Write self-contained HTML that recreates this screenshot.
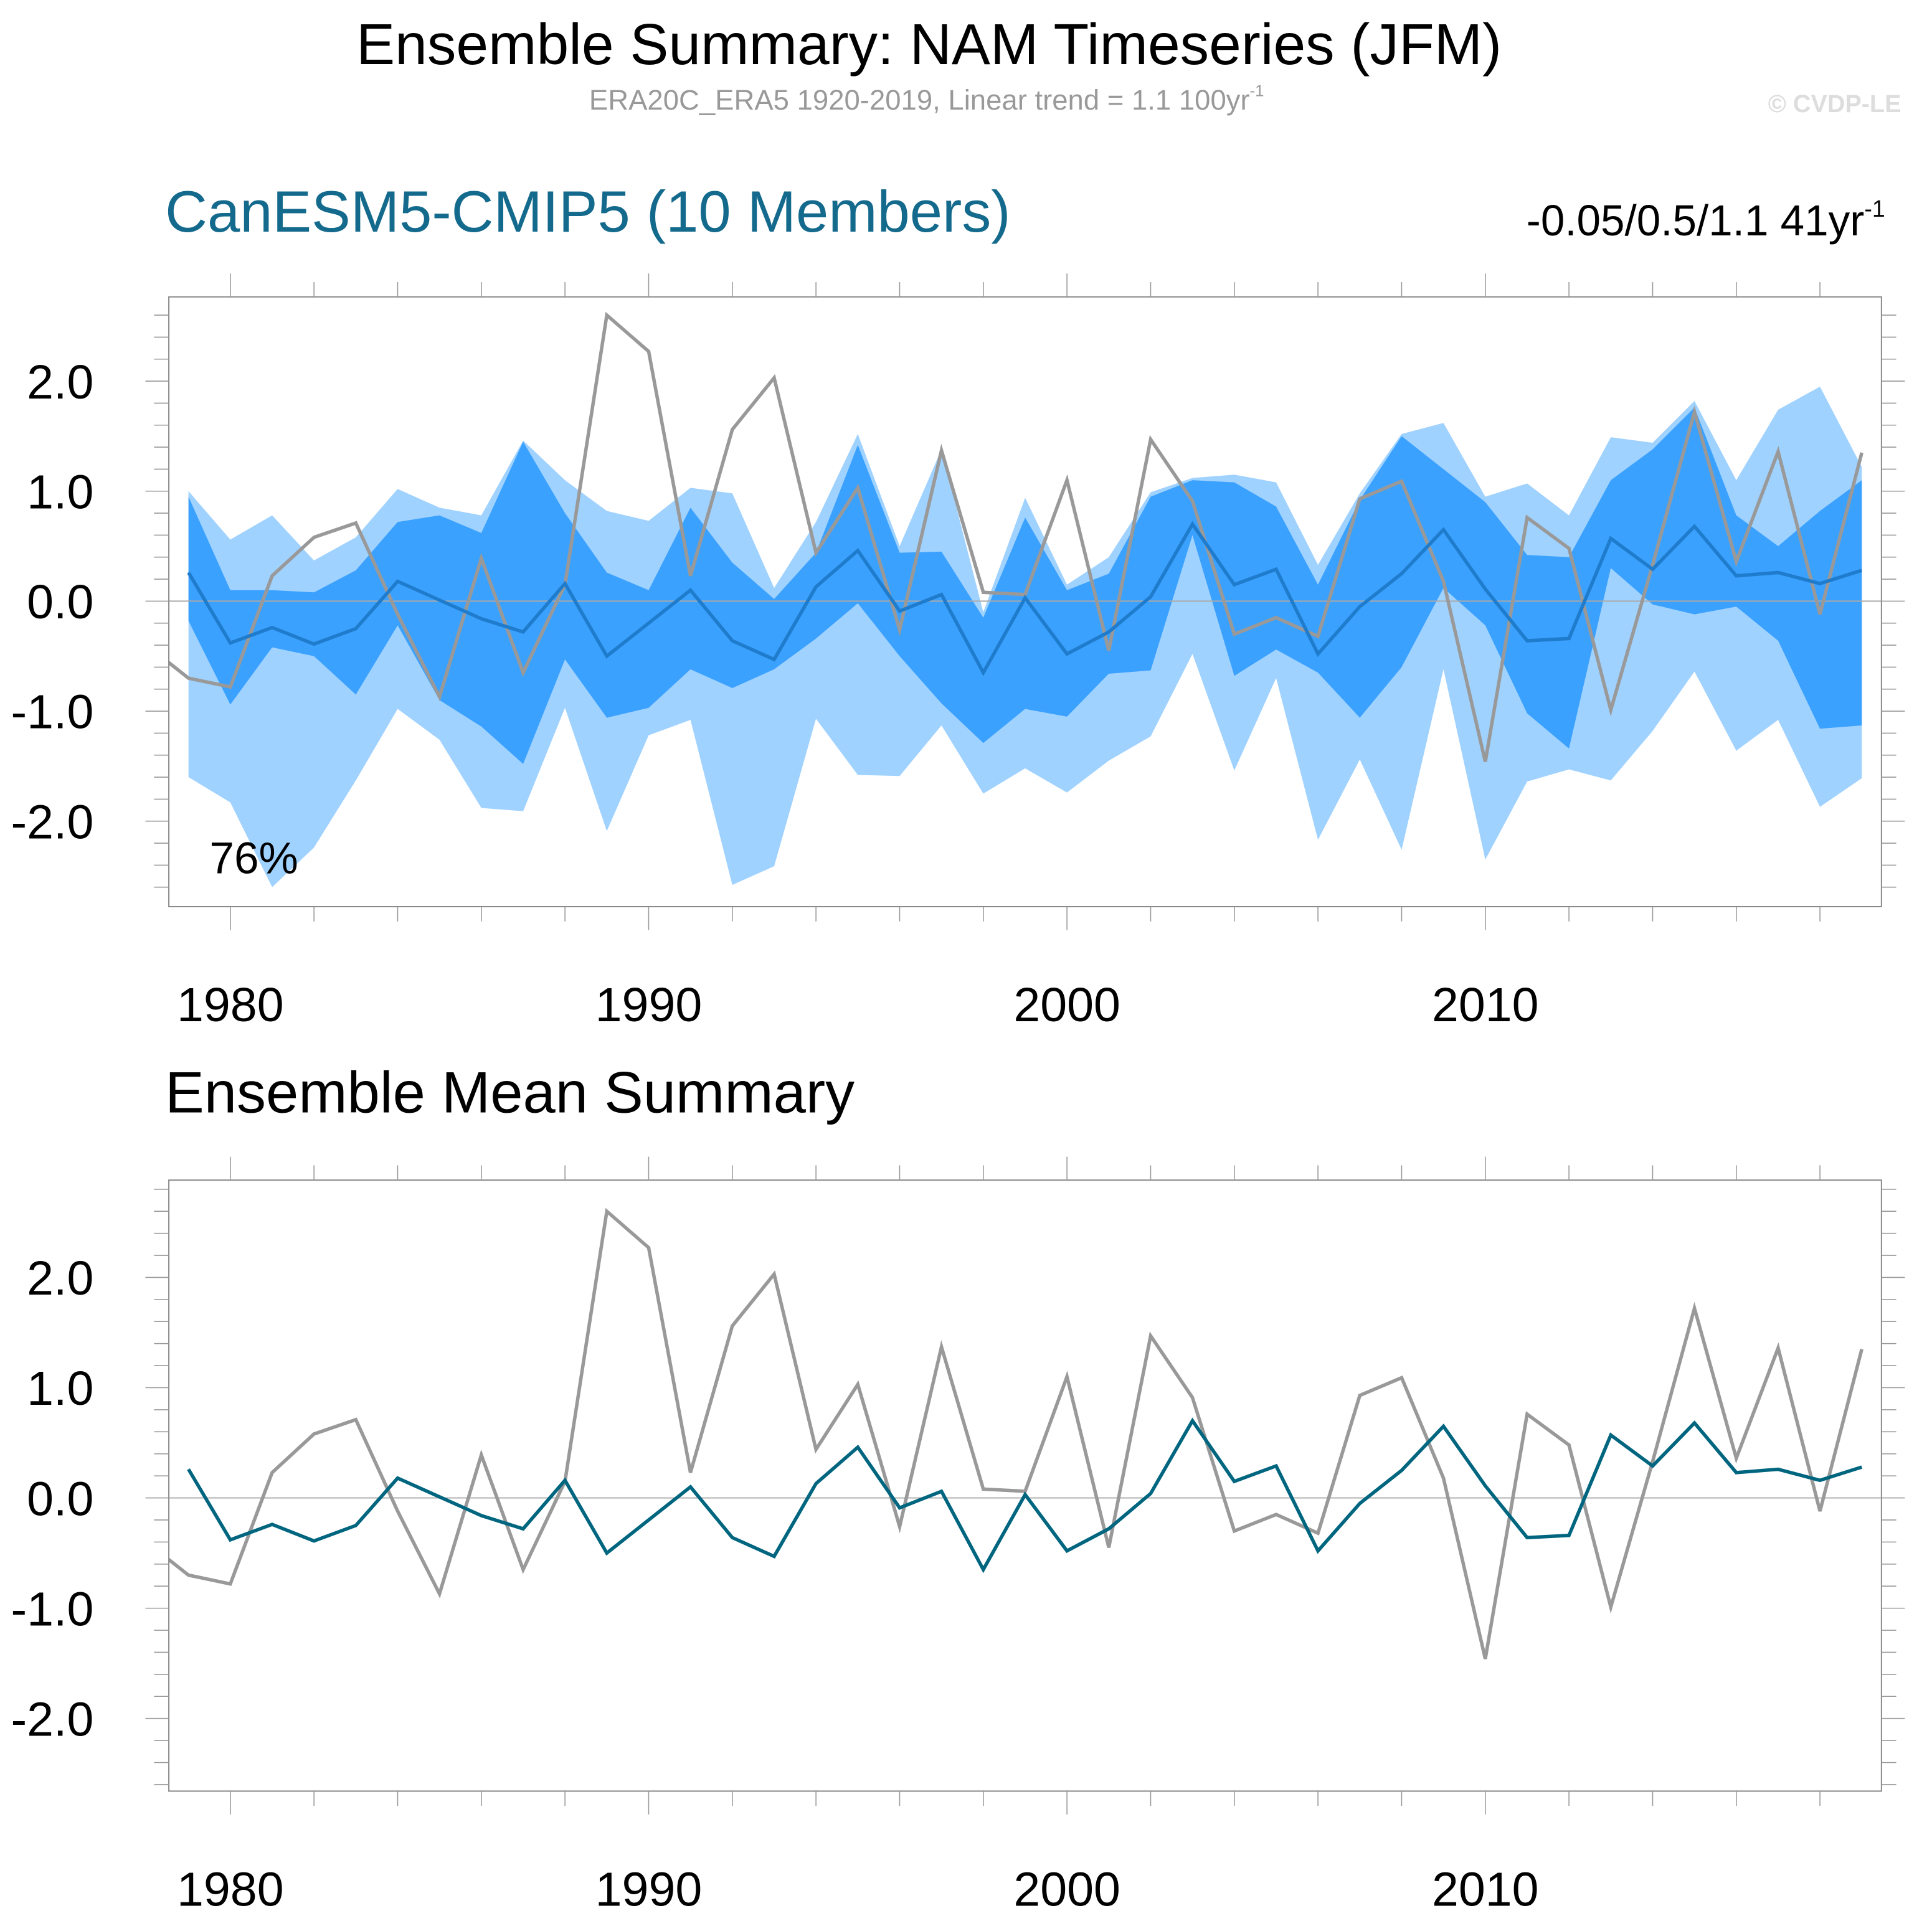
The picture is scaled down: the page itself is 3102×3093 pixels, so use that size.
<!DOCTYPE html>
<html><head><meta charset="utf-8"><style>
html,body{margin:0;padding:0;background:#fff}
svg{display:block}
text{font-family:"Liberation Sans",Arial,sans-serif}
</style></head><body>
<svg id="chart" xmlns="http://www.w3.org/2000/svg" width="3102" height="3093" viewBox="0 0 1568 1563.5">
<text x="754" y="52" font-size="47" text-anchor="middle">Ensemble Summary: NAM Timeseries (JFM)</text>
<text x="752" y="89" font-size="23" fill="#999" text-anchor="middle">ERA20C_ERA5 1920-2019, Linear trend = 1.1 100yr<tspan font-size="13" dy="-11">-1</tspan></text>
<text x="1543" y="91" font-size="20" font-weight="bold" fill="#ddd" text-anchor="end">© CVDP-LE</text>
<text x="134" y="188" font-size="47.5" fill="#146a8c">CanESM5-CMIP5 (10 Members)</text>
<text x="1530" y="191" font-size="35" text-anchor="end">-0.05/0.5/1.1 41yr<tspan font-size="19" dy="-15">-1</tspan></text>
<text x="134" y="903" font-size="47.5">Ensemble Mean Summary</text>
<g id="p1"></g>
<g id="p2"></g>
<text x="170" y="709" font-size="36">76%</text>
</svg>
<script>
const years=[];for(let y=1979;y<=2019;y++)years.push(y);
const obsYears=[1978].concat(years);
const obs=[-0.4,-0.70,-0.78,0.23,0.58,0.71,-0.12,-0.87,0.39,-0.65,0.15,2.6,2.27,0.23,1.56,2.03,0.44,1.03,-0.26,1.37,0.08,0.06,1.1,-0.45,1.47,0.91,-0.3,-0.15,-0.32,0.93,1.09,0.18,-1.46,0.76,0.48,-0.99,0.33,1.72,0.36,1.36,-0.12,1.35];
const ensMean=[0.26,-0.38,-0.24,-0.39,-0.25,0.18,0.01,-0.16,-0.28,0.16,-0.5,-0.2,0.1,-0.36,-0.53,0.13,0.46,-0.09,0.06,-0.65,0.03,-0.48,-0.28,0.04,0.7,0.15,0.29,-0.48,-0.05,0.25,0.65,0.11,-0.36,-0.34,0.57,0.29,0.68,0.23,0.26,0.16,0.28];
const ensMax=[1.0,0.56,0.78,0.37,0.58,1.02,0.85,0.78,1.46,1.1,0.82,0.73,1.03,0.98,0.12,0.72,1.52,0.5,1.38,-0.1,0.94,0.15,0.4,0.99,1.12,1.15,1.08,0.33,0.98,1.52,1.62,0.95,1.07,0.78,1.49,1.44,1.82,1.1,1.74,1.95,1.22];
const ensMin=[-1.6,-1.83,-2.6,-2.24,-1.63,-0.98,-1.26,-1.88,-1.91,-0.97,-2.09,-1.22,-1.08,-2.58,-2.41,-1.07,-1.58,-1.59,-1.13,-1.75,-1.52,-1.74,-1.45,-1.23,-0.48,-1.54,-0.7,-2.17,-1.44,-2.26,-0.62,-2.35,-1.64,-1.53,-1.63,-1.18,-0.64,-1.36,-1.08,-1.87,-1.61];
const ensHi=[0.95,0.1,0.1,0.08,0.28,0.72,0.78,0.62,1.45,0.8,0.26,0.1,0.85,0.35,0.02,0.44,1.42,0.44,0.45,-0.15,0.76,0.1,0.25,0.95,1.1,1.08,0.86,0.15,0.92,1.5,1.2,0.9,0.42,0.4,1.1,1.38,1.76,0.78,0.5,0.82,1.1];
const ensLo=[-0.18,-0.94,-0.42,-0.5,-0.85,-0.22,-0.9,-1.14,-1.48,-0.53,-1.06,-0.97,-0.62,-0.79,-0.62,-0.34,-0.02,-0.5,-0.93,-1.29,-0.98,-1.05,-0.66,-0.63,0.6,-0.68,-0.44,-0.65,-1.06,-0.6,0.12,-0.22,-1.02,-1.34,0.3,-0.03,-0.12,-0.05,-0.36,-1.16,-1.13];
const yTicks=[-2,-1,0,1,2];
const yTickLabels=["-2.0","-1.0","0.0","1.0","2.0"];
const xTicks=[1980,1990,2000,2010];
const xTickLabels=["1980","1990","2000","2010"];

const NS="http://www.w3.org/2000/svg";
function mk(p,t,a){const e=document.createElementNS(NS,t);for(const k in a)e.setAttribute(k,a[k]);p.appendChild(e);return e;}
const L=137,R=1527,X0=1978.53,X1=2019.47;
function xs(v){return L+(v-X0)/(X1-X0)*(R-L);}
function panel(g,top,bot,zeroY,unit,full,clipId){
  const ys=v=>zeroY-v*unit;
  const defs=mk(g,'defs',{});const cp=mk(defs,'clipPath',{id:clipId});mk(cp,'rect',{x:L,y:top,width:R-L,height:bot-top});
  const inner=mk(g,'g',{'clip-path':'url(#'+clipId+')'});
  if(full){
    let d='M'+years.map((y,i)=>xs(y)+','+ys(ensMax[i])).join('L')+'L'+years.map((y,i)=>xs(y)+','+ys(ensMin[i])).reverse().join('L')+'Z';
    const a=mk(inner,'path',{d:d,fill:'#a0d2ff'});
    
    
    d='M'+years.map((y,i)=>xs(y)+','+ys(ensHi[i])).join('L')+'L'+years.map((y,i)=>xs(y)+','+ys(ensLo[i])).reverse().join('L')+'Z';
    const b=mk(inner,'path',{d:d,fill:'#3ba1ff'});
    
    
  }
  mk(inner,'line',{x1:L,x2:R,y1:ys(0),y2:ys(0),stroke:'#aaa','stroke-width':1});
  const o=mk(inner,'polyline',{points:obsYears.map((y,i)=>xs(y)+','+ys(obs[i])).join(' '),fill:'none',stroke:'#999','stroke-width':2.8});
  
  
  const m=mk(inner,'polyline',{points:years.map((y,i)=>xs(y)+','+ys(ensMean[i])).join(' '),fill:'none',stroke:full?'#1f7ccc':'#00657f','stroke-width':2.8});
  
  
  mk(g,'rect',{x:L,y:top,width:R-L,height:bot-top,fill:'none',stroke:'#888','stroke-width':1});
  for(let y=1980;y<=2018;y+=2){const maj=(y%10===0);const len=maj?19:12;
    mk(g,'line',{x1:xs(y),x2:xs(y),y1:top-len,y2:top,stroke:'#999','stroke-width':0.8});
    mk(g,'line',{x1:xs(y),x2:xs(y),y1:bot,y2:bot+len,stroke:'#999','stroke-width':0.8});}
  for(let k=-14;k<=14;k++){const v=k*0.2;const y=ys(v);if(y<top-0.5||y>bot+0.5)continue;const maj=(k%5===0);const len=maj?19:12;
    mk(g,'line',{x1:L-len,x2:L,y1:y,y2:y,stroke:'#999','stroke-width':0.8});
    mk(g,'line',{x1:R,x2:R+len,y1:y,y2:y,stroke:'#999','stroke-width':0.8});}
  yTicks.forEach((v,i)=>{const t=mk(g,'text',{x:76,y:ys(v)+14,'font-size':39,'text-anchor':'end'});t.textContent=yTickLabels[i];
    
    });
  xTicks.forEach((v,i)=>{const t=mk(g,'text',{x:xs(v),y:bot+93,'font-size':39,'text-anchor':'middle'});t.textContent=xTickLabels[i];
    
    });
}
panel(document.getElementById('p1'),241,736,488,89.3,true,'c1');
panel(document.getElementById('p2'),958,1454,1216,89.5,false,'c2');
</script>
</body></html>
